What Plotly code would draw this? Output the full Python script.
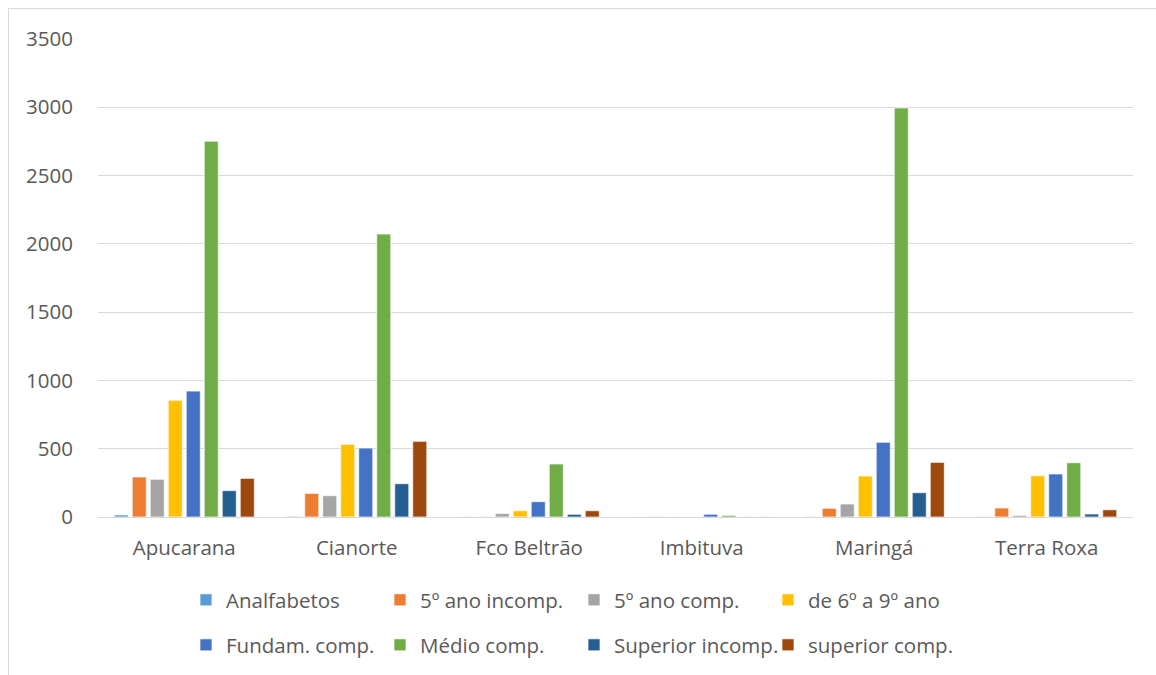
import plotly.graph_objects as go

categories = ["Apucarana", "Cianorte", "Fco Beltrão", "Imbituva", "Maringá", "Terra Roxa"]
series_names = ["Analfabetos", "5º ano incomp.", "5º ano comp.", "de 6º a 9º ano",
                "Fundam. comp.", "Médio comp.", "Superior incomp.", "superior comp."]
analfabetos = [15, 5, 2, 1, 3, 2]
ano5_incomp = [293, 173, 3, 2, 64, 66]
ano5_comp = [276, 156, 26, 2, 95, 12]
de6a9 = [855, 532, 46, 2, 300, 302]
fundam = [922, 505, 112, 20, 547, 315]
medio = [2752, 2072, 388, 12, 2995, 397]
sup_incomp = [193, 244, 20, 1, 178, 22]
sup_comp = [283, 554, 46, 1, 400, 53]
values = [analfabetos, ano5_incomp, ano5_comp, de6a9, fundam, medio, sup_incomp, sup_comp]
colors = ["#5B9BD5", "#ED7D31", "#A5A5A5", "#FFC000", "#4472C4", "#70AD47", "#255E91", "#9E480E"]
y_ticks = [0, 500, 1000, 1500, 2000, 2500, 3000, 3500]

FONT = "Open Sans"
FS = 20.5
TXT = "#595959"

fig = go.Figure()
for i, (name, vals, col) in enumerate(zip(series_names, values, colors)):
    fig.add_trace(go.Bar(
        x=categories, y=vals, name=name,
        marker=dict(color=col, line=dict(color="white", width=0.7)),
        legend="legend" if i < 4 else "legend2",
    ))

W, H = 1156, 675
L, R, T, B = 98, 23, 39, 158
pw, ph = W - L - R, H - T - B

def px_x(x):
    return (x - L) / pw

def px_y(y):
    return (H - B - y) / ph

legend_common = dict(
    orientation="h", xanchor="left", yanchor="middle",
    font=dict(family=FONT, size=FS, color=TXT),
    entrywidth=149, entrywidthmode="pixels", bgcolor="rgba(0,0,0,0)",
    itemclick=False,
)

fig.update_layout(
    width=W, height=H,
    margin=dict(l=L, r=R, t=T, b=B, autoexpand=False),
    paper_bgcolor="white", plot_bgcolor="white",
    barmode="group", bargap=0.165, bargroupgap=0.22,
    font=dict(family=FONT, size=FS, color=TXT),
    legend=dict(x=px_x(186), y=px_y(600), **legend_common),
    legend2=dict(x=px_x(186), y=px_y(645), **legend_common),
    xaxis=dict(showgrid=False, showline=False, zeroline=False,
               ticks="", ticklabelstandoff=16, automargin=False,
               tickfont=dict(family=FONT, size=FS, color=TXT)),
    yaxis=dict(range=[0, 3500], tickvals=y_ticks, showgrid=True,
               gridcolor="#D9D9D9", gridwidth=1, zeroline=True,
               zerolinecolor="#D9D9D9", zerolinewidth=1, showline=False,
               ticks="", ticklabelstandoff=24, automargin=False,
               tickfont=dict(family=FONT, size=FS, color=TXT)),
    shapes=[
        dict(type="line", xref="paper", yref="paper",
             x0=px_x(8.5), x1=px_x(8.5), y0=px_y(8.5), y1=px_y(690),
             line=dict(color="#D9D9D9", width=1)),
        dict(type="line", xref="paper", yref="paper",
             x0=px_x(8.5), x1=px_x(1170), y0=px_y(8.5), y1=px_y(8.5),
             line=dict(color="#D9D9D9", width=1)),
    ],
)

fig.write_html("out.html")
